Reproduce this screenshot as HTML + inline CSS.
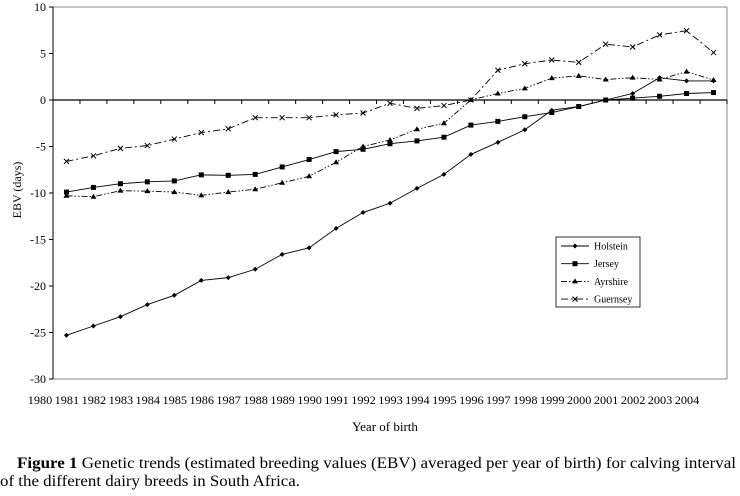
<!DOCTYPE html>
<html><head><meta charset="utf-8"><style>
body{margin:0;background:#fff;width:740px;height:491px;overflow:hidden;font-family:"Liberation Serif",serif}
svg text{font-family:"Liberation Serif",serif}
</style></head><body>
<svg width="740" height="491" id="c"></svg>
<script>
const years=["1980","1981","1982","1983","1984","1985","1986","1987","1988","1989","1990","1991","1992","1993","1994","1995","1996","1997","1998","1999","2000","2001","2002","2003","2004"];
const yTicks=[10,5,0,-5,-10,-15,-20,-25,-30];
const holstein=[-25.3,-24.3,-23.3,-22.0,-21.0,-19.4,-19.1,-18.2,-16.6,-15.9,-13.8,-12.1,-11.1,-9.5,-8.0,-5.85,-4.55,-3.2,-1.1,-0.7,0,0.7,2.4,2.05,2.05];
const jersey=[-9.9,-9.4,-9.0,-8.8,-8.7,-8.05,-8.1,-8.0,-7.2,-6.4,-5.55,-5.3,-4.7,-4.4,-4.0,-2.7,-2.3,-1.8,-1.35,-0.7,0,0.2,0.4,0.7,0.8];
const ayrshire=[-10.3,-10.4,-9.75,-9.8,-9.9,-10.25,-9.9,-9.6,-8.9,-8.2,-6.7,-5.0,-4.3,-3.15,-2.5,0,0.7,1.25,2.35,2.6,2.2,2.4,2.2,3.05,2.15];
const guernsey=[-6.6,-6.0,-5.2,-4.9,-4.2,-3.5,-3.1,-1.9,-1.9,-1.9,-1.6,-1.4,-0.35,-0.9,-0.6,0,3.2,3.9,4.3,4.05,6.0,5.7,7.0,7.45,5.1];
const svg=document.getElementById('c');const NS='http://www.w3.org/2000/svg';
const L=53,R=727,T=7,B=379;
const step=(R-L)/years.length;
const xp=i=>L+step*(i+0.5);
const yp=v=>T+(10-v)*(B-T)/40;
function el(t,a,p){const e=document.createElementNS(NS,t);for(const k in a)e.setAttribute(k,a[k]);(p||svg).appendChild(e);return e;}
let e;
e=el('line',{x1:L,y1:T,x2:R,y2:T,stroke:'#888','stroke-width':1});


e=el('line',{x1:R,y1:T,x2:R,y2:B,stroke:'#888','stroke-width':1});


e=el('line',{x1:L,y1:B,x2:R,y2:B,stroke:'#888','stroke-width':1});


e=el('line',{x1:L,y1:T,x2:L,y2:B,stroke:'#000','stroke-width':1});


e=el('line',{x1:L,y1:yp(0),x2:R,y2:yp(0),stroke:'#000','stroke-width':1.3});


yTicks.forEach(v=>{
 e=el('line',{x1:L-4,y1:yp(v),x2:L,y2:yp(v),stroke:'#000'});
 
 
 e=el('text',{x:L-7,y:yp(v)+4,'text-anchor':'end','font-size':12});e.textContent=v;
 
 
});
years.forEach((y,i)=>{
 e=el('line',{x1:L+step*(i+1),y1:yp(0),x2:L+step*(i+1),y2:yp(0)+4,stroke:'#000'});
 
 
 e=el('text',{x:xp(i)-26.5,y:404,'text-anchor':'middle','font-size':11.5,textLength:24.5,lengthAdjust:'spacingAndGlyphs'});e.textContent=y;
 
 
});
e=el('text',{x:385,y:431,'text-anchor':'middle','font-size':13});e.textContent='Year of birth';


e=el('text',{x:0,y:0,'text-anchor':'middle','font-size':12,transform:'translate(21,190) rotate(-90)'});e.textContent='EBV (days)';


function marker(g,type,x,y){
 if(type==='d')el('path',{d:`M${x} ${y-2.5}L${x+2.5} ${y}L${x} ${y+2.5}L${x-2.5} ${y}Z`,fill:'#000'},g);
 else if(type==='s')el('rect',{x:x-2.5,y:y-2.5,width:5,height:5,fill:'#000'},g);
 else if(type==='t')el('path',{d:`M${x} ${y-3}L${x+3} ${y+2}L${x-3} ${y+2}Z`,fill:'#000'},g);
 else el('path',{d:`M${x-2.5} ${y-2.5}L${x+2.5} ${y+2.5}M${x+2.5} ${y-2.5}L${x-2.5} ${y+2.5}`,stroke:'#000','stroke-width':1},g);
}
const series=[['holstein',holstein,'d',''],['jersey',jersey,'s',''],['ayrshire',ayrshire,'t','6 2 1.5 2 1.5 2'],['guernsey',guernsey,'x','7 3 2 3']];
series.forEach(([n,d,m,da])=>{
 const g=el('g',{});
 
 
 el('polyline',{points:d.map((v,i)=>xp(i)+','+yp(v)).join(' '),fill:'none',stroke:'#000','stroke-width':0.9,'stroke-dasharray':da},g);
 d.forEach((v,i)=>marker(g,m,xp(i),yp(v)));
});
const lg=el('g',{});


el('rect',{x:556,y:237,width:84,height:70,fill:'#fff',stroke:'#000','stroke-width':0.8},lg);
const names=['Holstein','Jersey','Ayrshire','Guernsey'];
series.forEach(([n,d,m,da],i)=>{
 const y=246+i*17.7;
 const g=el('g',{},lg);
 
 
 el('line',{x1:561,y1:y,x2:589,y2:y,stroke:'#000','stroke-width':0.9,'stroke-dasharray':da},g);
 marker(g,m,575,y);
 const t=el('text',{x:594,y:y+3.5,'font-size':10},g);t.textContent=names[i];
});
</script>
<svg style="position:absolute;left:0;top:0" width="740" height="491">
<text x="17" y="468" font-size="16" textLength="719" lengthAdjust="spacingAndGlyphs"><tspan font-weight="bold">Figure 1</tspan> Genetic trends (estimated breeding values (EBV) averaged per year of birth) for calving interval</text>
<text x="0" y="486" font-size="16" textLength="300" lengthAdjust="spacingAndGlyphs">of the different dairy breeds in South Africa.</text>
</svg>
</body></html>
